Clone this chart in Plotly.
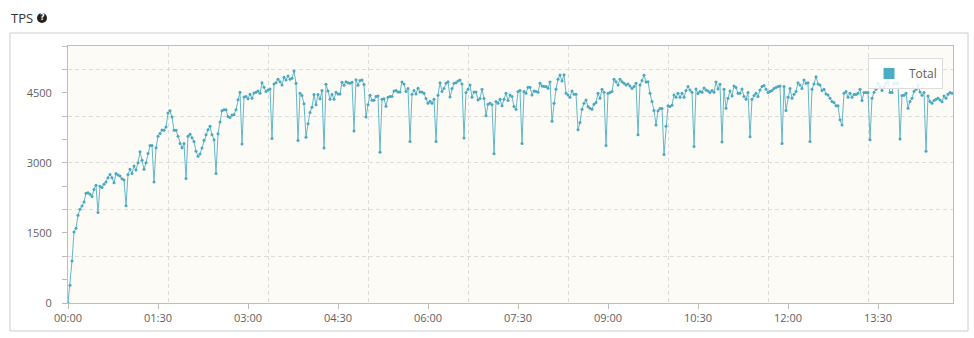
import plotly.graph_objects as go

# ---------------- data ----------------
sample_step_min = 2  # one sample every 2 minutes of elapsed time

tps_total = [
    0, 380, 900, 1520, 1600, 1880, 2007, 2078, 2163, 2350, 2360, 2330, 2280, 2430, 2520, 1935,
    2500, 2470, 2540, 2590, 2680, 2750, 2680, 2575, 2770, 2740, 2720, 2660, 2630, 2080, 2750, 2860,
    2770, 2930, 2845, 3000, 3235, 3055, 2860, 3000, 3200, 3370, 3370, 2590, 3320, 3570, 3625, 3700,
    3695, 3766, 4064, 4113, 3979, 3695, 3695, 3567, 3411, 3320, 3411, 2667, 3567, 3610, 3539, 3454,
    3248, 3142, 3191, 3319, 3482, 3603, 3709, 3780, 3603, 3496, 2773, 3624, 3872, 4113, 4135, 4135,
    3993, 3972, 4021, 4028, 4135, 4348, 4511, 3404, 4411, 4418, 4369, 4468, 4383, 4496, 4511, 4539,
    4489, 4716, 4617, 4525, 4560, 4582, 3518,
    4688, 4716, 4787, 4737, 4666, 4830, 4773, 4858, 4787, 4808, 4964, 4702, 3475, 4489, 4440, 4262,
    3546, 3837, 4078, 4191, 4461, 4241, 4461, 4369, 4546, 3319, 4681, 4539, 4362, 4461, 4362, 4510,
    4475, 4475, 4723, 4659, 4737, 4716, 4702, 4723, 3681, 4780, 4659, 4759, 4773, 4674, 3979, 4241,
    4447, 4340, 4340, 4418, 4432, 3227, 4362, 4369, 4213,
    4404, 4418, 4418, 4539, 4546, 4518, 4518, 4730, 4688, 4525, 4589, 3454, 4468, 4546, 4475, 4596,
    4518, 4518, 4489, 4376, 4277, 4319, 4277, 4362, 3454, 4447, 4716, 4525, 4589, 4702, 4737, 4411,
    4589, 4702, 4716, 4752, 4773, 4688, 3532, 4503, 4574, 4666, 4404, 4518, 4518, 4347, 4376, 4574,
    4376, 4007, 4255, 4277, 4241, 3192, 4312,
    4277, 4362, 4220, 4362, 4489, 4333, 4454, 4418, 4206, 4149, 4525, 4546, 3411, 4525, 4489, 4617,
    4617, 4454, 4539, 4525, 4510, 4702, 4645, 4631, 4631, 4596, 4730, 3887, 4277, 4574, 4787, 4879,
    4752, 4886, 4489, 4454, 4404, 4539, 4468, 4468, 3709, 3865, 4149, 4277, 4347, 4206, 4170, 4149,
    4255, 4291, 4489, 4383, 4574, 4510, 3369,
    4489, 4503, 4525, 4787, 4737, 4666, 4787, 4737, 4702, 4666, 4688, 4645, 4589, 4631, 4702, 3603,
    4666, 4759, 4872, 4730, 4737, 4489, 4312, 4121, 3809, 4113, 4163, 4163, 3178, 3780, 4220, 4206,
    4234, 4454, 4404, 4489, 4404, 4489, 4404, 4546, 4631, 4560, 4510, 3348, 4581, 4482, 4525, 4510,
    4603, 4560, 4539, 4503, 4546, 4510, 4730,
    4582, 4681, 3447, 4574, 4170, 4383, 4539, 4432, 4645, 4610, 4489, 4489, 4582, 4418, 4362, 4503,
    3560, 4362, 4440, 4489, 4418, 4560, 4631, 4652, 4574, 4503, 4525, 4546, 4589, 4610, 4631, 4645,
    3411, 4631, 4121, 4404, 4589, 4383, 4468, 4525, 4716, 4666, 4589, 4773, 4702, 4716, 3454, 4574,
    4688, 4844, 4688, 4666, 4546, 4574, 4475,
    4454, 4383, 4312, 4291, 4220, 4220, 3922, 3809, 4489, 4525, 4404, 4489, 4404, 4461, 4461, 4489,
    4574, 4333, 4503, 4503, 4503, 3496, 4383, 4510, 4574, 4702, 4631, 4546, 4631, 4702, 4737, 4503,
    4503, 4702, 4702, 4702, 3511, 4440, 4447, 4489, 4170, 4312, 4383, 4525, 4574, 4666, 4518, 4447,
    4503, 3248, 4432, 4312, 4277, 4333, 4362, 4383, 4347, 4305, 4432, 4383, 4468, 4503, 4489,
]
elapsed_minutes = [i * sample_step_min for i in range(len(tps_total))]

x_tick_minutes = [0, 90, 180, 270, 360, 450, 540, 630, 720, 810]
x_tick_labels = ["00:00", "01:30", "03:00", "04:30", "06:00", "07:30", "09:00", "10:30", "12:00", "13:30"]
y_tick_values = [0, 1500, 3000, 4500]
y_tick_labels = ["0", "1500", "3000", "4500"]

series_name = "Total"
chart_title = "TPS"

# ---------------- styling ----------------
W, H = 974, 338
ML, MR, MT, MB = 68, 21, 46, 35
PW, PH = W - ML - MR, H - MT - MB

X_RANGE = [0, 885]
Y_RANGE = [0, 5500]

LINE_COLOR = "#62b8ca"
MARKER_COLOR = "#4aa9bf"
LEGEND_COLOR = "#4bacc6"
AXIS_COLOR = "#bdbdbd"
GRID_COLOR = "#dcdcdc"
TEXT_COLOR = "#5f5f5f"
FONT = "Open Sans, Segoe UI, DejaVu Sans, sans-serif"


def px_x(px):
    return (px - ML) / PW


def px_y(py):
    return (H - MB - py) / PH


fig = go.Figure()

fig.add_trace(go.Scatter(
    x=elapsed_minutes, y=tps_total, name=series_name,
    mode="lines+markers",
    line=dict(color=LINE_COLOR, width=1),
    marker=dict(color=MARKER_COLOR, size=3),
    showlegend=False,
    hoverinfo="x+y",
))

# legend entry (square swatch), attached to overlay axes that carry the grid
fig.add_trace(go.Scatter(
    x=[None], y=[None], name=series_name, mode="markers",
    marker=dict(symbol="square", size=11, color=LEGEND_COLOR),
    xaxis="x2", yaxis="y2", showlegend=True,
))

fig.update_layout(
    width=W, height=H,
    margin=dict(l=ML, r=MR, t=MT, b=MB, pad=0),
    paper_bgcolor="white",
    plot_bgcolor="#fcfbf6",
    font=dict(family=FONT, size=11, color=TEXT_COLOR),
    xaxis=dict(
        range=X_RANGE, tickmode="array", tickvals=x_tick_minutes, ticktext=x_tick_labels,
        showgrid=False, zeroline=False,
        showline=True, linecolor=AXIS_COLOR, linewidth=1, mirror=True,
        ticks="outside", ticklen=5, tickcolor=AXIS_COLOR,
        tickfont=dict(size=11, color=TEXT_COLOR),
    ),
    yaxis=dict(
        range=Y_RANGE, tickmode="array", tickvals=y_tick_values, ticktext=y_tick_labels,
        showgrid=False, zeroline=False,
        showline=True, linecolor=AXIS_COLOR, linewidth=1, mirror=True,
        ticks="outside", ticklen=5, tickcolor=AXIS_COLOR,
        ticklabelstandoff=8,
        minor=dict(dtick=500, tick0=0, ticks="outside", ticklen=5, tickcolor=AXIS_COLOR, showgrid=False),
        tickfont=dict(size=11, color=TEXT_COLOR),
    ),
    xaxis2=dict(
        overlaying="x", range=X_RANGE, tick0=0, dtick=100, showgrid=True,
        gridcolor=GRID_COLOR, griddash="4px,3px", gridwidth=1,
        showticklabels=False, ticks="", showline=False, zeroline=False,
    ),
    yaxis2=dict(
        overlaying="y", range=Y_RANGE, tick0=0, dtick=1000, showgrid=True,
        gridcolor=GRID_COLOR, griddash="4px,3px", gridwidth=1,
        showticklabels=False, ticks="", showline=False, zeroline=False,
    ),
    legend=dict(
        x=px_x(943), y=px_y(58), xanchor="right", yanchor="top",
        bgcolor="rgba(255,255,255,0.85)", bordercolor="#dddddd", borderwidth=1,
        font=dict(size=12, color=TEXT_COLOR),
        itemwidth=30,
        tracegroupgap=0,
    ),
    showlegend=True,
)

# outer panel border
fig.add_shape(type="rect", xref="paper", yref="paper",
              x0=px_x(10), x1=px_x(968), y0=px_y(331), y1=px_y(33),
              line=dict(color="#cccccc", width=1), fillcolor="rgba(0,0,0,0)", layer="below")

# title + help icon
fig.add_annotation(text=chart_title, xref="paper", yref="paper",
                   x=px_x(9), y=px_y(18), xanchor="left", yanchor="middle",
                   showarrow=False, font=dict(size=13, color="#333333", family=FONT))
fig.add_shape(type="circle", xref="paper", yref="paper",
              x0=px_x(37), x1=px_x(47), y0=px_y(23), y1=px_y(13),
              line=dict(color="#222222", width=0), fillcolor="#222222")
fig.add_annotation(text="<b>?</b>", xref="paper", yref="paper",
                   x=px_x(42), y=px_y(18), xanchor="center", yanchor="middle",
                   showarrow=False, font=dict(size=8, color="white", family="DejaVu Sans"))

fig.write_html("out.html")
